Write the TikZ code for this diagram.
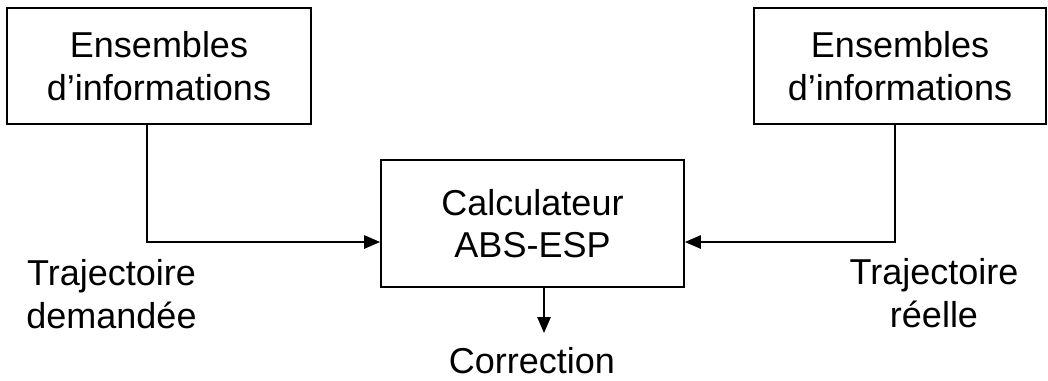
\documentclass[tikz,border=0pt]{standalone}
\usepackage{fontspec}
\setmainfont{Liberation Sans}
\usetikzlibrary{arrows.meta}
\begin{document}
\begin{tikzpicture}[x=0.75pt,y=-0.75pt,
  box/.style={draw,line width=1.3pt,inner sep=0pt,align=center,font=\fontsize{27}{32}\selectfont},
  lbl/.style={inner sep=0pt,align=center,font=\fontsize{27}{32}\selectfont},
  conn/.style={line width=1.3pt,-{Triangle[length=12pt,width=10pt]}}]
\useasboundingbox (0,0) rectangle (1048,380);
\node[box,minimum width=304*0.75pt,minimum height=116*0.75pt] (left) at (159,66) {Ensembles\\d’informations};
\node[box,minimum width=292*0.75pt,minimum height=116*0.75pt] (right) at (900,66) {Ensembles\\d’informations};
\node[box,minimum width=303*0.75pt,minimum height=127*0.75pt] (calc) at (532.5,223.5) {Calculateur\\ABS-ESP};
\coordinate (out) at (544,333);
\node[lbl,anchor=base] (dem) at (111.5,328) {Trajectoire\\demandée};
\node[lbl,anchor=base] (reel) at (934,327) {Trajectoire\\réelle};
\node[lbl,anchor=base] (corr) at (532,373) {Correction};
\draw[conn] ([xshift=-12*0.75pt]left.south) |- ([yshift=-18.5*0.75pt]calc.west);
\draw[conn] ([xshift=-5*0.75pt]right.south) |- ([yshift=-18.5*0.75pt]calc.east);
\draw[conn] ([xshift=11.5*0.75pt]calc.south) -- (out);
\end{tikzpicture}
\end{document}
